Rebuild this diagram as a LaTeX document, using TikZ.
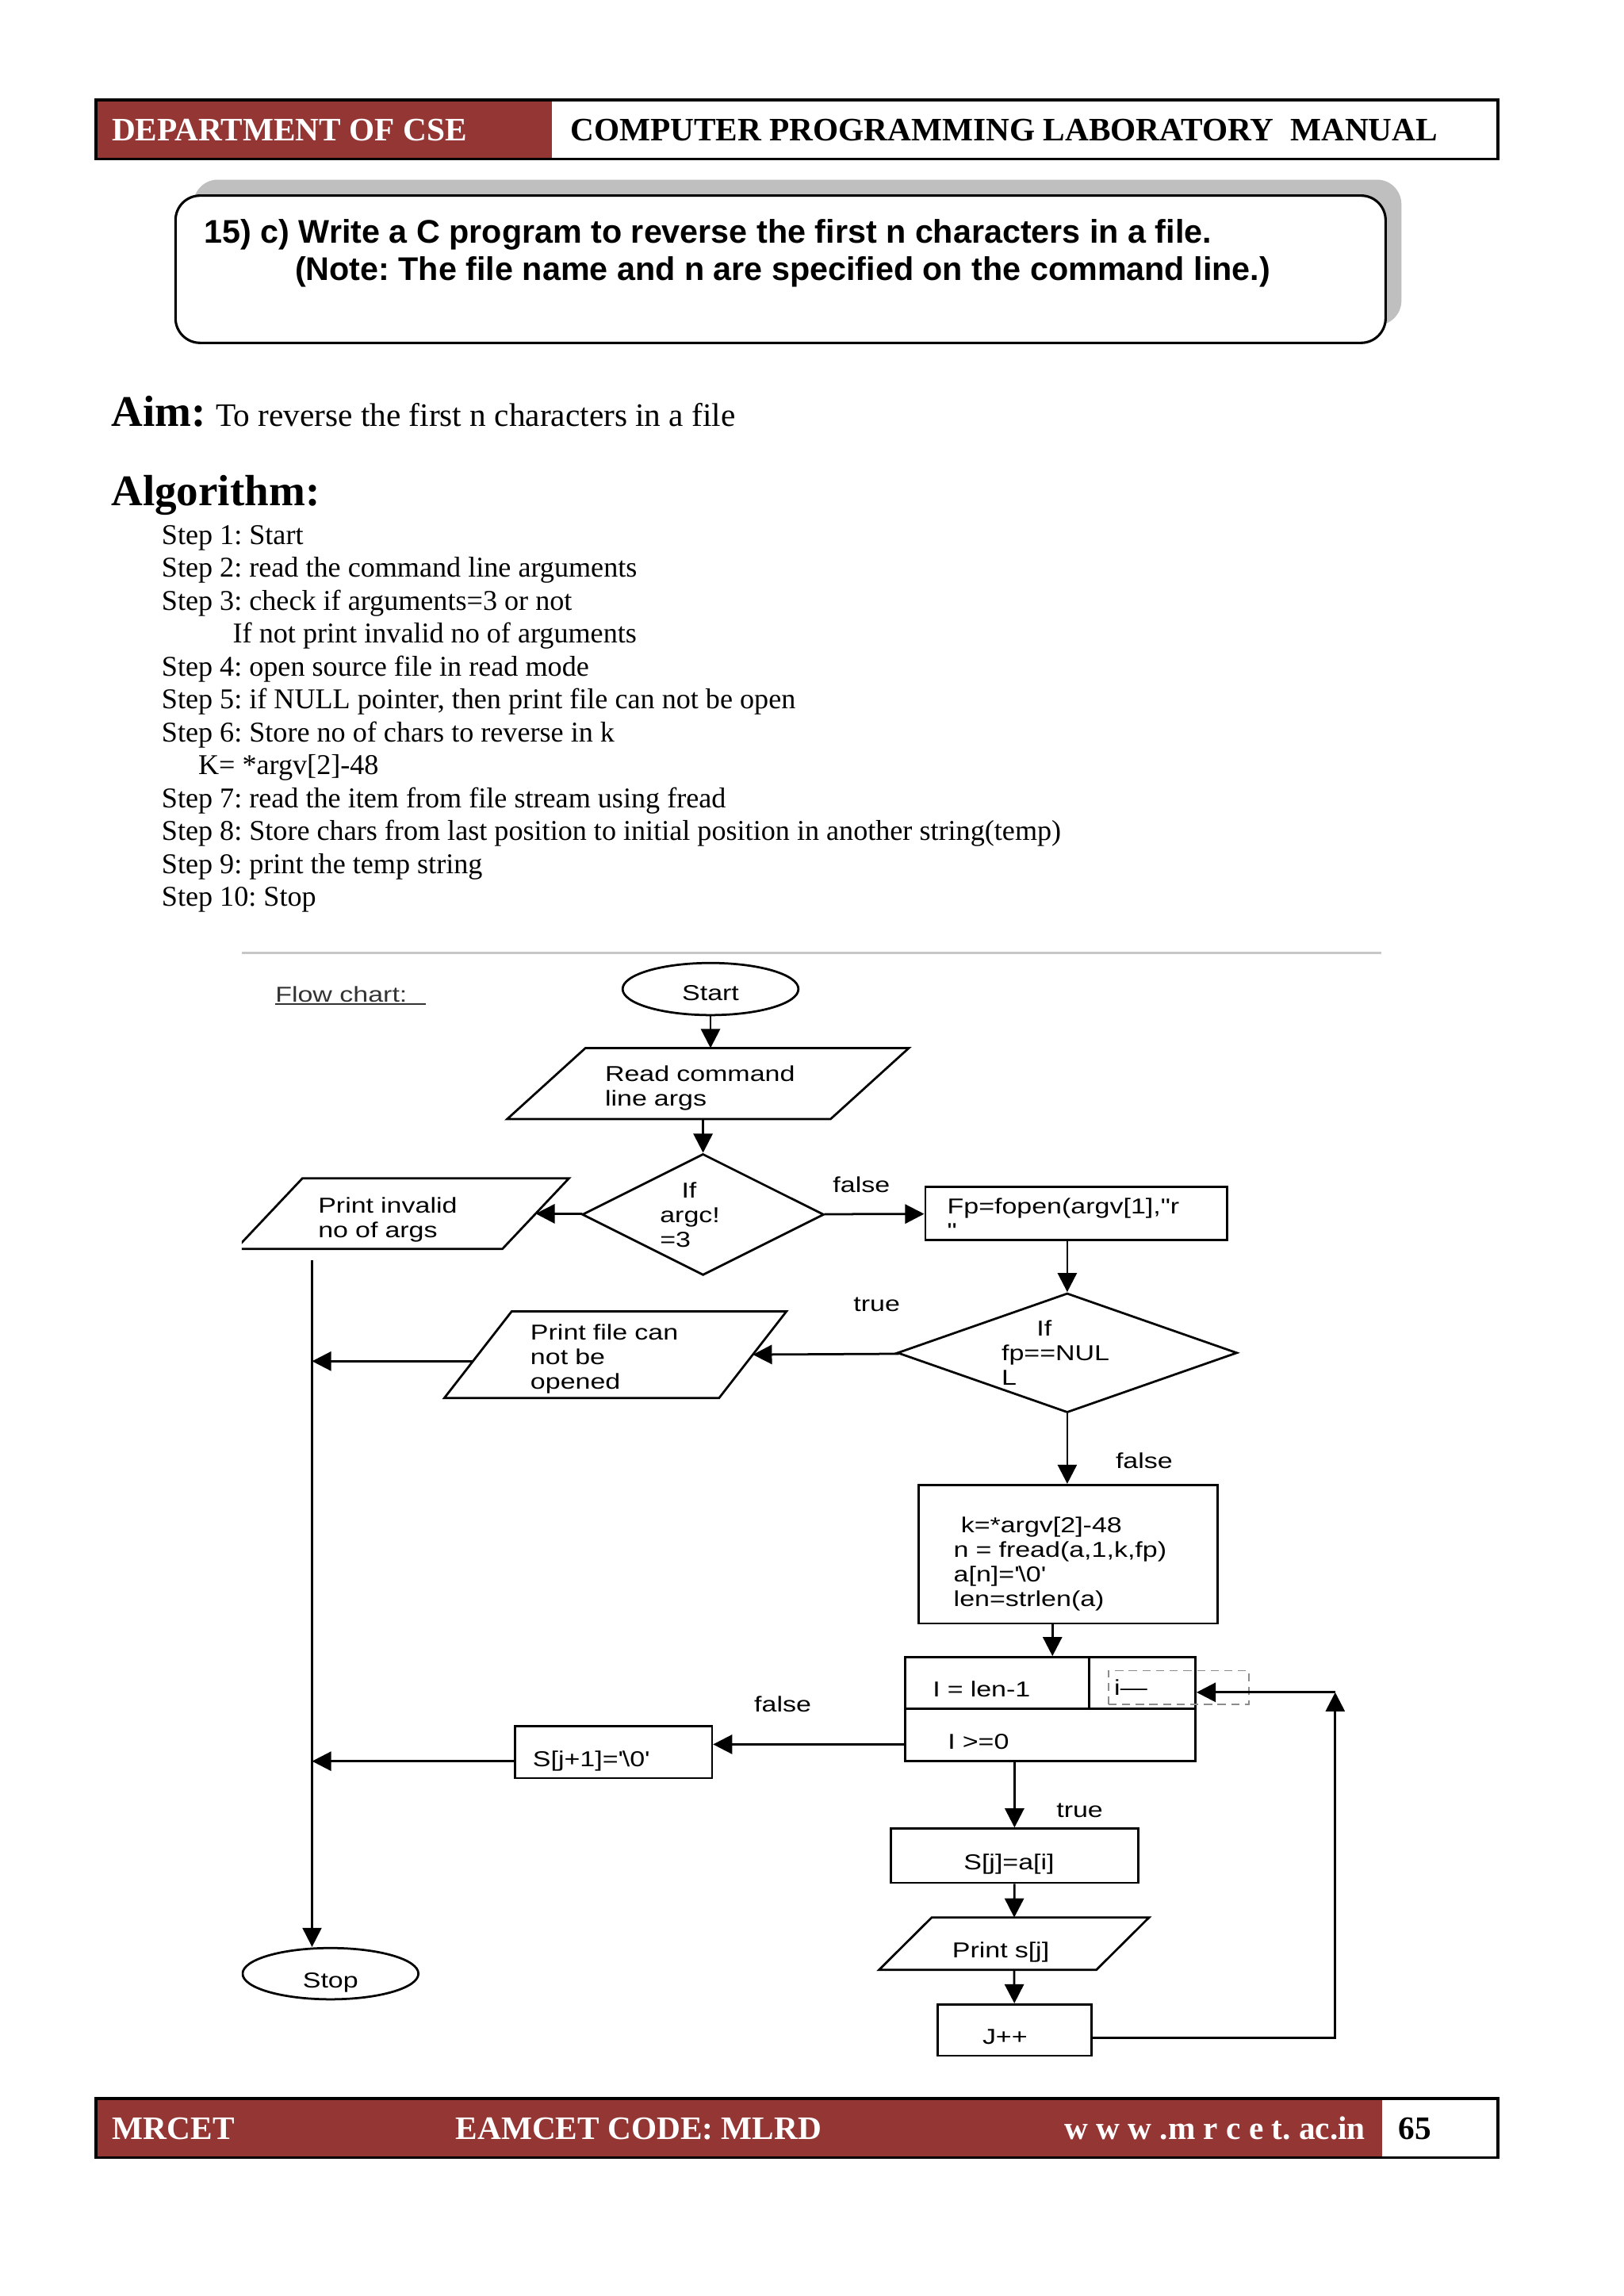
\documentclass[tikz,border=0pt]{standalone}
\usepackage{fontspec}
\setmainfont{Liberation Serif}
\newfontfamily\arialfont{Liberation Sans}
\newfontfamily\chartfont[FakeStretch=1.25]{Liberation Sans}
\usepackage{tikz}
\usetikzlibrary{shapes.geometric}
\usetikzlibrary{arrows.meta}

\definecolor{mrcetred}{RGB}{148,54,52}
\newcommand\dpx{0.5368pt}
\newcommand\sq{\textquotesingle}
% slanted outline round an input/output node: node name, slant offset
\newcommand\ioshape[2]{\draw[line width=0.8pt] ([xshift=#2]#1.north west) -- (#1.north east)
    -- ([xshift=-#2]#1.south east) -- (#1.south west) -- cycle;}

\tikzset{
  txt/.style={inner sep=0pt, anchor=base west},
  fc/.style={font=\chartfont\fontsize{7.9}{9}\selectfont},
  oneline/.style={text height=11pt, text depth=0.5pt},
  fcbox/.style={fc, draw, line width=0.8pt, rectangle, align=left},
  io/.style={fc, rectangle, align=left, inner ysep=0pt},
  decision/.style={fc, draw, line width=0.8pt, diamond, align=left, inner sep=0pt, shape aspect=2.8},
  terminal/.style={fc, oneline, draw, line width=0.8pt, ellipse, inner sep=0pt},
  flow/.style={line width=0.8pt, -{Triangle[length=7pt,width=7pt]}},
  lbl/.style={fc, inner sep=0pt}
}
\frenchspacing

\begin{document}
\begin{tikzpicture}[x=0.5368pt, y=-0.5368pt]
    \useasboundingbox (0,0) rectangle (1108,1567);

    % The page header
    \fill[mrcetred] (65.6,68) rectangle (376.5,108.5);
    \draw[line width=1.1pt] (65.6,68) rectangle (1022.4,108.5);
    \node[txt, text=white, font=\bfseries\fontsize{12}{14}\selectfont] (dept) at (76,96) {DEPARTMENT OF CSE};
    \node[txt, font=\bfseries\fontsize{12}{14}\selectfont] (manual) at (389,96) {COMPUTER PROGRAMMING LABORATORY\ \ MANUAL};

    % The question box
    \fill[black!25, rounded corners=9pt] (132,122.6) rectangle (956.6,222);
    \draw[fill=white, line width=0.9pt, rounded corners=9pt] (119.8,133.5) rectangle (945.8,234);
    \node[txt, font=\arialfont\bfseries\fontsize{12}{14}\selectfont] (task) at (139,166) {15) c) Write a C program to reverse the first n characters in a file.};
    \node[txt, font=\arialfont\bfseries\fontsize{12}{14}\selectfont] (note) at (201,191.5) {(Note: The file name and n are specified on the command line.)};

    % The aim and the algorithm
    \node[txt, font=\bfseries\fontsize{16}{18}\selectfont] (aim) at (75.6,290.7) {Aim:};
    \node[txt, font=\fontsize{12}{14}\selectfont] (aimtext) at (147,290.7) {To reverse the first n characters in a file};
    \node[txt, font=\bfseries\fontsize{16}{18}\selectfont] (algo) at (75.6,345) {Algorithm:};
    \foreach \xx/\txt [count=\i from 0] in {
        110/{Step 1: Start},
        110/{Step 2: read the command line arguments},
        110/{Step 3: check if arguments=3 or not},
        158.6/{If not print invalid no of arguments},
        110/{Step 4: open source file in read mode},
        110/{Step 5: if NULL pointer, then print file can not be open},
        110/{Step 6: Store no of chars to reverse in k},
        135/{K= *argv[2]-48},
        110/{Step 7: read the item from file stream using fread},
        110/{Step 8: Store chars from last position to initial position in another string(temp)},
        110/{Step 9: print the temp string},
        110/{Step 10: Stop}}
        \node[txt, font=\fontsize{10.5}{12}\selectfont] (step\i) at (\xx, {371.4+22.47*\i}) {\txt};

    % The flow chart
    \draw[black!22, line width=0.8pt] (165,650.5) -- (943,650.5);
    \begin{scope}
        \clip (165,651) rectangle (943,1420);

        \node[txt, fc, text=black!80] (fctitle) at (187.6,684) {Flow chart:};
        \draw[black!80, line width=0.6pt] (187.6,685.5) -- (290.7,685.5);

        % The shapes
        \node[terminal, text depth=2.5pt, minimum width=120*\dpx, minimum height=35*\dpx] (start) at (485,675) {Start};
        \node[io, text width=140.6*\dpx, inner xsep=66.4*\dpx, minimum height=47.7*\dpx] (read) at (483.3,739.5)
            {\rule{0pt}{9.1pt}Read command\\line args};
        \ioshape{read}{53.4*\dpx}
        \node[decision, shape aspect=2, minimum width=165*\dpx, minimum height=82.8*\dpx] (dec1) at (479.9,828.9)
            {\hspace*{7.9pt}If\\argc!\hspace*{9.6pt}\mbox{}\\=3};
        \node[io, text width=114.9*\dpx, inner xsep=55.9*\dpx, minimum height=47.5*\dpx] (invalid) at (274.65,828.3)
            {\rule{0pt}{10.2pt}Print invalid\\no of args};
        \ioshape{invalid}{45.5*\dpx}
        \node[fcbox, inner ysep=0pt, text width=176*\dpx, inner xsep=15*\dpx, minimum height=36.4*\dpx] (fopen) at (734.6,828.2)
            {\rule{0pt}{9.1pt}Fp=fopen(argv[1],"r\\"};
        \node[decision, minimum width=232*\dpx, minimum height=81.5*\dpx] (dec2) at (728.5,923.3)
            {\hspace*{12.9pt}If\\fp==NUL\hspace*{8.6pt}\mbox{}\\L};
        \node[io, text width=116*\dpx, inner xsep=58.4*\dpx, minimum height=58.4*\dpx] (nofile) at (420.1,924.5)
            {\rule{0pt}{9.1pt}Print file can\\not be\\opened};
        \ioshape{nofile}{46*\dpx}
        \node[fcbox, text width=156*\dpx, inner xsep=24*\dpx, minimum height=94.6*\dpx] (calc) at (729,1060.7)
            {\rule{0pt}{12.9pt}\ k=*argv[2]-48\\\mbox{n = fread(a,1,k,fp)}\\a[n]=\sq\textbackslash0\sq\\len=strlen(a)};
        \node[fcbox, oneline, text width=88*\dpx, inner xsep=18.7*\dpx, minimum height=35*\dpx] (init) at (680.75,1148.5) {I = len-1};
        \node[fcbox, minimum width=72.5*\dpx, minimum height=35*\dpx] (decr) at (779.75,1148.5) {};
        \node[fcbox, oneline, text width=140*\dpx, inner xsep=29*\dpx, minimum height=36*\dpx] (cond) at (717,1184) {I >=0};
        \node[fc, draw=black!45, densely dashed, line width=0.5pt, text width=88*\dpx, inner xsep=4*\dpx,
              minimum height=21.5*\dpx, align=left] (decrtext) at (804.6,1151.75) {i—};
        \node[fcbox, oneline, text width=110*\dpx, inner xsep=12.3*\dpx, minimum height=35.5*\dpx] (endstr) at (418.7,1195.8) {S[j+1]=\sq\textbackslash0\sq};
        \node[fcbox, oneline, align=center, minimum width=169*\dpx, minimum height=37*\dpx] (assign) at (692.5,1266.5) {S[j]=a[i]\hspace*{4pt}};
        \node[io, oneline, text width=84.4*\dpx, inner xsep=49.6*\dpx, minimum height=35*\dpx] (prints) at (692.2,1326.5) {Print s[j]};
        \ioshape{prints}{36*\dpx}
        \node[fcbox, oneline, align=center, minimum width=105*\dpx, minimum height=35*\dpx] (incr) at (692.5,1385.5) {J++\hspace*{7pt}};
        \node[terminal, minimum width=120*\dpx, minimum height=35*\dpx] (stop) at (225.6,1347) {Stop};

        % The free ends of the connectors
        \coordinate (trunk) at (213,860);
        \coordinate (back) at (911.4,1155);

        % The connectors
        \draw[flow] (start) -- (start |- read.north);
        \draw[flow] (dec1 |- read.south) -- (dec1);
        \draw[flow] (dec1) -- ([xshift=-22.75*\dpx]invalid.east);
        \draw[flow] (dec1) -- (fopen);
        \draw[flow] (fopen.south -| dec2) -- (dec2);
        \draw[flow] (dec2) -- ([xshift=-23*\dpx]nofile.east);
        \draw[flow] ([xshift=20*\dpx, yshift=-4.5*\dpx]nofile.west) -- ([yshift=-4.5*\dpx]nofile.west -| trunk);
        \draw[flow, line width=0.6pt] (trunk) -- (trunk |- stop.north);
        \draw[flow] (dec2) -- (dec2 |- calc.north);
        \draw[flow] ([xshift=-10.6*\dpx]calc.south) -- ([xshift=-10.6*\dpx]calc.south |- init.north);
        \draw[flow] ([yshift=-6.5*\dpx]cond.west) -- ([yshift=-6.5*\dpx]cond.west -| endstr.east);
        \draw[flow] ([yshift=-6.2*\dpx]endstr.west) -- ([yshift=-6.2*\dpx]endstr.west -| trunk);
        \draw[flow] (cond.south -| assign.north) -- (assign);
        \draw[flow] (assign) -- (prints);
        \draw[flow] (prints) -- (incr);
        \draw[flow] ([yshift=-5.5*\dpx]incr.east) -| (back);
        \draw[flow] (back) -- (back -| decr.east);

        % The labels of the connectors
        \node[lbl] (false1) at (588,808.7) {false};
        \node[lbl] (true1) at (598.5,890.4) {true};
        \node[lbl] (false2) at (781,997) {false};
        \node[lbl] (false3) at (534.3,1163) {false};
        \node[lbl] (true2) at (737,1235.6) {true};
    \end{scope}

    % The page footer
    \fill[mrcetred] (65.6,1432) rectangle (943.3,1472.5);
    \draw[line width=1.1pt] (65.6,1432) rectangle (1022.4,1472.5);
    \node[txt, text=white, font=\bfseries\fontsize{12}{14}\selectfont] (college) at (76.4,1460.3) {MRCET};
    \node[txt, text=white, font=\bfseries\fontsize{12}{14}\selectfont] (code) at (310.7,1460.3) {EAMCET CODE: MLRD};
    \node[txt, text=white, font=\bfseries\fontsize{12}{14}\selectfont, anchor=base east] (web) at (932.4,1460.3) {w w w .m r c e t. ac.in};
    \node[txt, font=\bfseries\fontsize{12}{14}\selectfont] (page) at (954.1,1460.3) {65};
\end{tikzpicture}
\end{document}
